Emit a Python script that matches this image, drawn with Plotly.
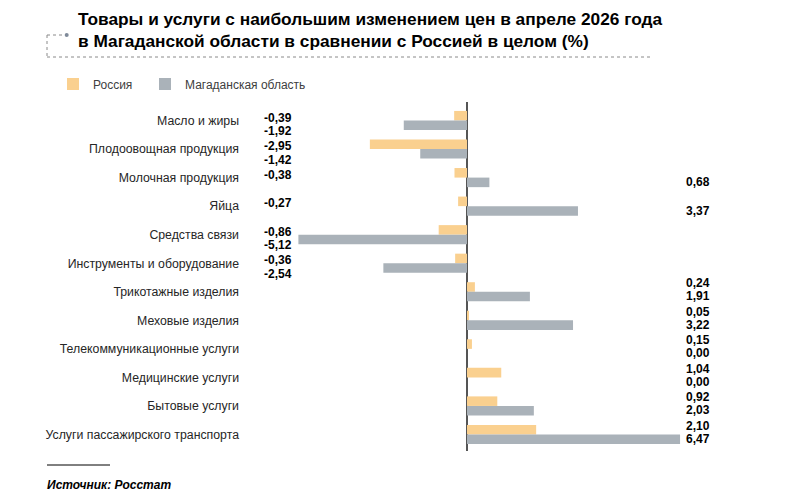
import plotly.graph_objects as go

# данные
categories = ['Масло и жиры', 'Плодоовощная продукция', 'Молочная продукция', 'Яйца',
              'Средства связи', 'Инструменты и оборудование', 'Трикотажные изделия',
              'Меховые изделия', 'Телекоммуникационные услуги', 'Медицинские услуги',
              'Бытовые услуги', 'Услуги пассажирского транспорта']
russia = [-0.39, -2.95, -0.38, -0.27, -0.86, -0.36, 0.24, 0.05, 0.15, 1.04, 0.92, 2.10]
magadan = [-1.92, -1.42, 0.68, 3.37, -5.12, -2.54, 1.91, 3.22, 0.00, 0.00, 2.03, 6.47]

C_RUS = '#FAD08F'
C_MAG = '#AAB2B9'

OFF = 8                      # отступ body в браузере
W, H = 790 - OFF, 499 - OFF
ZERO, K = 467, 32.93         # положение нуля и пикселей на 1 п.п. (в координатах страницы)
L, R, T, B = 245 - OFF, 90, 102 - OFF, 499 - 451
PW, PH = W - L - R, H - T - B


def px(x):  # пиксели страницы -> paper
    return (x - OFF - L) / PW


def py(y):
    return (H - B - (y - OFF)) / PH


fig = go.Figure()
fig.add_trace(go.Bar(y=categories, x=russia, orientation='h', name='Россия', legend='legend',
                     marker=dict(color=C_RUS, line=dict(width=0))))
fig.add_trace(go.Bar(y=categories, x=magadan, orientation='h', name='Магаданская область',
                     legend='legend2', marker=dict(color=C_MAG, line=dict(width=0))))

leg = dict(orientation='h', xanchor='left', yanchor='middle', itemwidth=30,
           font=dict(size=12, color='#404040'), bgcolor='rgba(0,0,0,0)')
fig.update_layout(
    width=W, height=H, autosize=False,
    margin=dict(l=L, r=R, t=T, b=B, pad=0),
    paper_bgcolor='white', plot_bgcolor='white',
    barmode='group', bargap=0.33, bargroupgap=0,
    font=dict(family='Liberation Sans, Arial', size=12, color='#333333'),
    showlegend=True,
    legend=dict(leg, x=px(53), y=py(84)),
    legend2=dict(leg, x=px(145), y=py(84)),
)
fig.update_xaxes(range=[(L + OFF - ZERO) / K, (W - R + OFF - ZERO) / K],
                 showgrid=False, showticklabels=False, ticks='',
                 zeroline=True, zerolinecolor='#555555', zerolinewidth=1.5)
fig.update_yaxes(autorange='reversed', showgrid=False, ticks='', showline=False,
                 tickfont=dict(size=12.3, color='#262626'), ticklabelstandoff=5)

# подписи значений
for cat, vr, vm in zip(categories, russia, magadan):
    for v, top in ((vr, True), (vm, False)):
        txt = f'{v:.2f}'.replace('.', ',')
        if v < 0:
            xp, anchor, shift = px(263), 'left', (3 if top else -10.5)
        else:
            xp, anchor, shift = px(711), 'right', (8.5 if top else -4.5)
        fig.add_annotation(x=xp, xref='paper', y=cat, yref='y', text=f'<b>{txt}</b>',
                           showarrow=False, xanchor=anchor, yanchor='middle', yshift=shift,
                           borderpad=0, font=dict(size=12, color='#000000'))

# заголовок
fig.add_annotation(x=px(77), y=py(30), xref='paper', yref='paper', xanchor='left', yanchor='middle',
                   align='left', showarrow=False, borderpad=0,
                   text='<b>Товары и услуги с наибольшим изменением цен в апреле 2026 года<br>'
                        'в Магаданской области в сравнении с Россией в целом (%)</b>',
                   font=dict(size=17.3, color='#000000'))

# декоративная рамка
dash = dict(color='#8a8a8a', width=1, dash='dot')
fig.add_shape(type='line', xref='paper', yref='paper', x0=px(47), x1=px(47), y0=py(35), y1=py(57), line=dash)
fig.add_shape(type='line', xref='paper', yref='paper', x0=px(47), x1=px(650), y0=py(57), y1=py(57), line=dash)
fig.add_shape(type='line', xref='paper', yref='paper', x0=px(47), x1=px(62), y0=py(35), y1=py(35), line=dash)
fig.add_shape(type='circle', xref='paper', yref='paper', x0=px(64.7), x1=px(68.7), y0=py(33), y1=py(37),
              fillcolor='#7f8a99', line=dict(width=0))

# источник
fig.add_shape(type='line', xref='paper', yref='paper', x0=px(47), x1=px(110), y0=py(465), y1=py(465),
              line=dict(color='#000000', width=1))
fig.add_annotation(x=px(46), y=py(485), xref='paper', yref='paper', xanchor='left', yanchor='middle',
                   showarrow=False, borderpad=0, text='<b><i>Источник: Росстат</i></b>',
                   font=dict(size=12, color='#000000'))

fig.write_html('out.html')
